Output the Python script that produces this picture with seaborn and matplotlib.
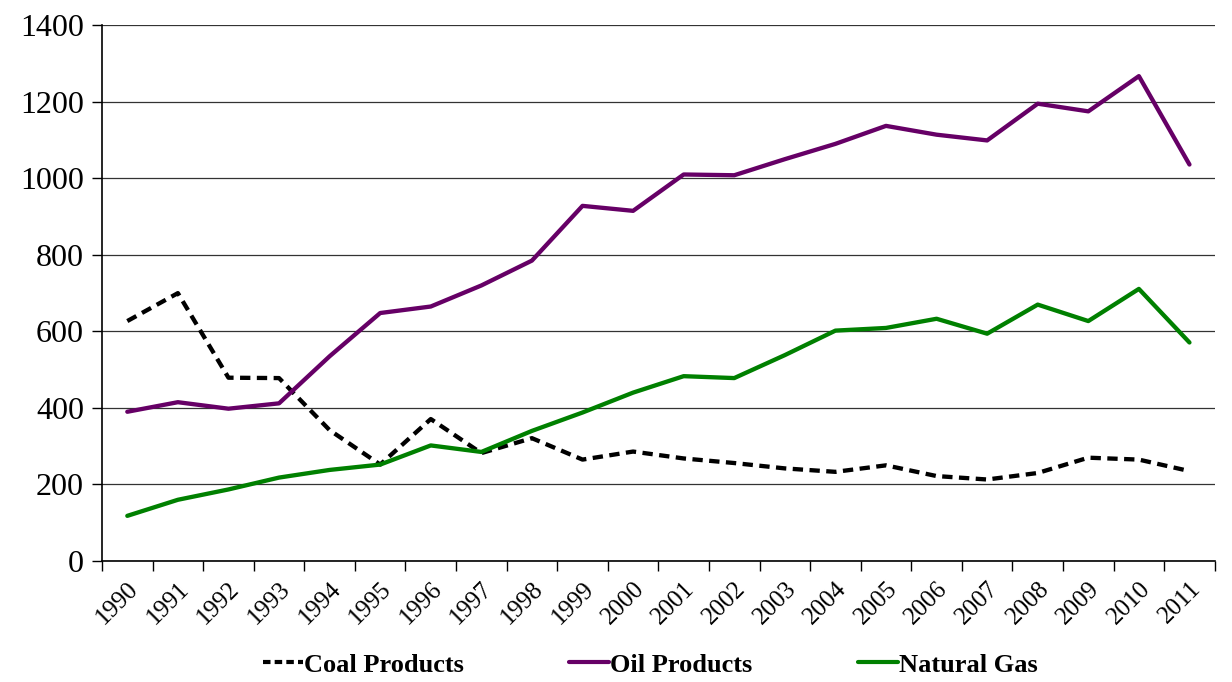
import matplotlib
matplotlib.use("Agg")
import matplotlib.pyplot as plt
import numpy as np
import pandas as pd
import seaborn as sns

years = [str(y) for y in range(1990, 2012)]
coal = [627, 700, 479, 478, 342, 252, 371, 282, 321, 265, 286, 268, 256, 242, 233, 250, 222, 213, 230, 270, 265, 235]
oil = [390, 415, 398, 412, 535, 648, 665, 720, 785, 928, 915, 1010, 1008, 1050, 1090, 1137, 1114, 1099, 1195, 1175, 1267, 1036]
gas = [118, 160, 187, 218, 238, 252, 302, 285, 340, 388, 440, 483, 478, 538, 602, 609, 633, 594, 670, 627, 711, 571]
series_names = ["Coal Products", "Oil Products", "Natural Gas"]
colors = ["#000000", "#660066", "#008000"]

df = pd.DataFrame({"year": years * 3,
                   "pos": list(range(len(years))) * 3,
                   "value": coal + oil + gas,
                   "series": [n for n in series_names for _ in years]})

sns.set_theme(style="white")
plt.rcParams["font.family"] = ["Liberation Serif", "DejaVu Serif"]
plt.rcParams["text.color"] = "black"
plt.rcParams["xtick.color"] = "black"
plt.rcParams["ytick.color"] = "black"

fig = plt.figure(figsize=(12.32, 6.82), dpi=100)
ax = fig.add_axes([0.0828, 0.1774, 0.9032, 0.7856])

sns.lineplot(data=df, x="pos", y="value", hue="series", style="series",
             palette=dict(zip(series_names, colors)),
             dashes={"Coal Products": (2.4, 1.5), "Oil Products": "", "Natural Gas": ""},
             linewidth=3.1, ax=ax, legend=False, zorder=3)

ax.set_xlim(-0.5, len(years) - 0.5)
ax.set_ylim(0, 1400)
ax.set_yticks(range(0, 1401, 200))
ax.tick_params(axis="y", labelsize=23, length=7, width=1, direction="out", color="black",
               labelcolor="black", left=True, pad=6)
ax.yaxis.grid(True, color="#333333", linewidth=0.9)
ax.set_axisbelow(True)

ax.set_xticks(np.arange(len(years)))
ax.set_xticklabels(years, rotation=45, ha="right", rotation_mode="anchor", fontsize=18)
ax.set_xticks(np.arange(len(years) + 1) - 0.5, minor=True)
ax.tick_params(axis="x", which="major", length=0, pad=12, labelcolor="black")
ax.tick_params(axis="x", which="minor", length=7, width=1, direction="out", color="black", bottom=True)

ax.set_xlabel("")
ax.set_ylabel("")
for s in ["top", "right"]:
    ax.spines[s].set_visible(False)
for s in ["left", "bottom"]:
    ax.spines[s].set_color("black")
    ax.spines[s].set_linewidth(1.2)

handles = [plt.Line2D([], [], color=c, lw=3, linestyle=(0, (1.8, 1.0)) if i == 0 else "-")
           for i, c in enumerate(colors)]
fig.legend(handles, series_names, loc="center", bbox_to_anchor=(0.528, 0.025), ncol=3,
           frameon=False, handlelength=1.5, handletextpad=0.05, columnspacing=4.0,
           prop={"family": "Liberation Serif", "weight": "bold", "size": 19})

fig.savefig("out.png", dpi=100)
